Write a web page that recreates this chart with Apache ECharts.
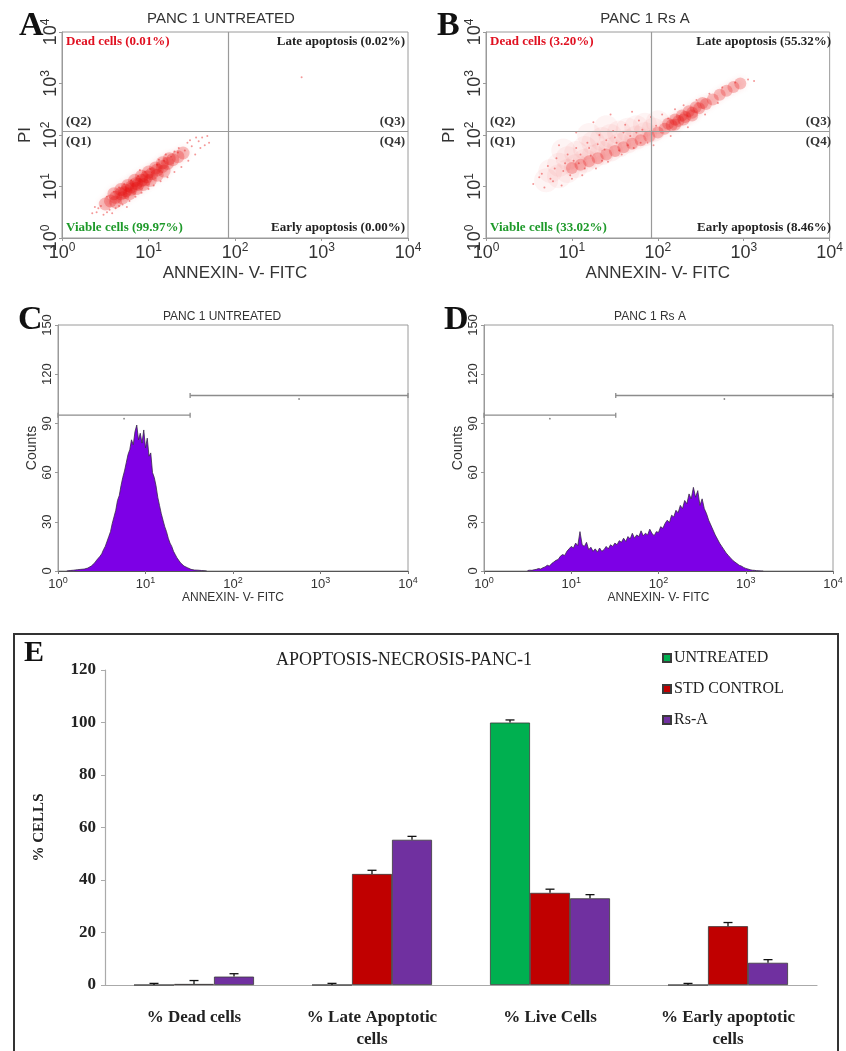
<!DOCTYPE html>
<html>
<head>
<meta charset="utf-8">
<script src="https://cdn.jsdelivr.net/npm/echarts@6/dist/echarts.min.js"></script>
<style>
  html, body { margin: 0; padding: 0; background: #fff; }
  #chart { width: 846px; height: 1051px; }
</style>
</head>
<body>
<div id="chart"></div>
<script>
// ---------- Flow cytometry dot plots (log10 exponents of ANNEXIN V-FITC, PI) ----------
const fitcGate = 83;   // vertical quadrant gate (FITC)
const piGate = 120;    // horizontal quadrant gate (PI)

const quadrantNames = ['Dead cells', 'Late apoptosis', 'Viable cells', 'Early apoptosis'];
const untreatedQuadrantPct = ['0.01', '0.02', '99.97', '0.00'];
const rsaQuadrantPct = ['3.20', '55.32', '33.02', '8.46'];

// dense core of the untreated population
const untreatedCore = [
  [0.50, 0.66], [0.56, 0.72], [0.62, 0.79], [0.68, 0.86], [0.74, 0.92], [0.80, 0.99],
  [0.86, 1.06], [0.92, 1.12], [0.98, 1.19], [1.04, 1.25], [1.10, 1.32], [1.16, 1.39],
  [1.22, 1.45], [1.28, 1.52], [1.34, 1.58], [1.40, 1.65],
  [0.62, 0.70], [0.70, 0.78], [0.78, 0.86], [0.86, 0.96], [0.94, 1.04], [1.02, 1.12],
  [1.10, 1.22], [1.18, 1.30], [0.60, 0.86], [0.68, 0.94], [0.76, 1.02], [0.84, 1.12],
  [0.92, 1.20], [1.00, 1.28], [1.08, 1.36], [1.16, 1.46], [1.24, 1.54],
  [0.72, 0.88], [0.80, 0.95], [0.88, 1.04], [0.96, 1.13]
];
// sparse events around the untreated population
const untreatedSpray = [
  [0.40, 0.50], [0.45, 0.62], [0.48, 0.45], [0.52, 0.80], [0.55, 0.55], [0.60, 0.90],
  [0.62, 0.58], [0.66, 0.98], [0.70, 0.65], [0.72, 1.05], [0.78, 0.72], [0.80, 1.12],
  [0.85, 0.80], [0.88, 1.20], [0.92, 0.88], [0.96, 1.28], [1.00, 0.95], [1.02, 1.34],
  [1.06, 1.02], [1.10, 1.42], [1.14, 1.10], [1.18, 1.50], [1.22, 1.18], [1.26, 1.58],
  [1.30, 1.28], [1.34, 1.66], [1.38, 1.38], [1.42, 1.70], [1.46, 1.50], [1.50, 1.78],
  [1.54, 1.62], [1.58, 1.88], [1.45, 1.85], [1.62, 1.95], [1.35, 1.75], [1.20, 1.62],
  [0.35, 0.48], [0.58, 0.48], [0.75, 0.60], [1.65, 1.80], [2.77, 3.12],
  [0.42, 0.58], [0.66, 0.62], [1.60, 1.75], [1.70, 1.85], [1.55, 1.95], [0.38, 0.60],
  [0.52, 0.50], [0.90, 1.32], [1.12, 1.52], [1.30, 1.68], [1.48, 1.90], [1.68, 1.98]
];

// dense ridge of the Rs A treated population
const rsaRidge = [
  [1.00, 1.36], [1.10, 1.42], [1.20, 1.49], [1.30, 1.55], [1.40, 1.62], [1.50, 1.69],
  [1.60, 1.76], [1.70, 1.83], [1.80, 1.90], [1.90, 1.97], [2.00, 2.05], [2.08, 2.12],
  [2.16, 2.19], [2.24, 2.27], [2.32, 2.35], [2.40, 2.43], [2.48, 2.52], [2.56, 2.60],
  [2.64, 2.69], [2.72, 2.78], [2.80, 2.86], [2.88, 2.93], [2.96, 3.00],
  [2.12, 2.22], [2.20, 2.30], [2.28, 2.38], [2.36, 2.46], [2.44, 2.54], [2.52, 2.62],
  [2.20, 2.20], [2.30, 2.30], [2.40, 2.38]
];
// diffuse haze of the Rs A population (lower-left)
const rsaHaze = [
  [0.70, 1.12], [0.75, 1.30], [0.85, 1.20], [0.85, 1.42], [0.95, 1.30], [0.95, 1.55],
  [1.05, 1.40], [1.05, 1.65], [1.15, 1.50], [1.15, 1.75], [1.25, 1.58], [1.25, 1.85],
  [1.35, 1.65], [1.35, 1.92], [1.45, 1.72], [1.45, 1.98], [1.55, 1.80], [1.55, 2.05],
  [1.65, 1.88], [1.65, 2.10], [1.75, 1.95], [1.75, 2.15], [1.85, 2.02], [1.85, 2.20],
  [1.95, 2.10], [2.00, 2.25], [1.20, 2.00], [0.90, 1.70], [1.40, 2.15]
];
// scattered single events of the Rs A population
const rsaDots = [
  [0.55, 1.05], [0.62, 1.18], [0.68, 0.98], [0.72, 1.40], [0.78, 1.10], [0.82, 1.55],
  [0.88, 1.02], [0.90, 1.30], [0.95, 1.62], [1.00, 1.15], [1.05, 1.75], [1.08, 1.45],
  [1.12, 1.22], [1.18, 1.85], [1.22, 1.60], [1.28, 1.35], [1.32, 2.00], [1.38, 1.72],
  [1.42, 1.48], [1.48, 2.08], [1.52, 1.85], [1.58, 1.62], [1.62, 2.20], [1.68, 1.98],
  [1.72, 1.75], [1.78, 2.28], [1.82, 2.10], [1.88, 1.85], [1.92, 2.35], [1.98, 2.18],
  [2.05, 2.40], [2.12, 2.32], [2.20, 2.50], [2.30, 2.58], [2.45, 2.68], [2.60, 2.80],
  [2.75, 2.92], [2.90, 3.02], [3.05, 3.08], [3.12, 3.05], [1.25, 2.25], [1.45, 2.40],
  [1.05, 2.05], [0.85, 1.80], [1.70, 2.45], [2.35, 2.15], [2.55, 2.40], [2.70, 2.62],
  [2.15, 1.98], [1.95, 1.80],
  [0.65, 1.25], [0.75, 1.15], [0.80, 1.35], [0.92, 1.45], [0.98, 1.22], [1.02, 1.50],
  [1.10, 1.62], [1.15, 1.35], [1.20, 1.75], [1.30, 1.82], [1.35, 1.50], [1.40, 1.90],
  [1.50, 1.95], [1.55, 1.70], [1.60, 2.05], [1.65, 1.80], [1.75, 2.05], [1.80, 1.85]
];

// ---------- Histograms (counts per log10 FITC bin) ----------
const untreatedHistStart = 0.10, untreatedHistStep = 0.02;
const untreatedHistCounts = [
  0, 0, 0.3, 0, 0.5, 0.4, 0.8, 0.5, 1, 0.8,
  1.2, 1.5, 1.8, 2.4, 3, 3.6, 5, 6.5, 7.5, 9,
  10.5, 13, 15, 18, 21, 24, 29, 33, 37, 43,
  46, 52, 57, 61, 66, 71, 74, 80, 77, 85,
  89, 80, 84, 78, 86, 75, 81, 70, 72, 60,
  57, 52, 45, 40, 35, 31, 27, 24, 20, 17,
  15, 12, 10, 8, 6.5, 5, 4, 3, 2.4, 2,
  1.5, 1, 0.8, 0.6, 0.4, 0.5, 0.2, 0.3, 0, 0.2, 0
];
const rsaHistStart = 0.50, rsaHistStep = 0.025;
const rsaHistCounts = [
  0.3, 0.5, 0.4, 0.8, 1.0, 1.5, 1.2, 2.0, 2.5, 3.5,
  3.0, 4.5, 5.5, 6.5, 7.0, 9.0, 10.0, 9.5, 12.0, 13.5,
  15.0, 14.0, 17.0, 15.5, 24.0, 16.0, 15.0, 17.5, 13.0, 14.5,
  12.0, 13.5, 11.5, 14.0, 12.0, 13.0, 15.0, 13.5, 16.0, 15.0,
  17.0, 16.0, 18.5, 17.5, 20.0, 18.0, 21.0, 19.5, 23.0, 20.0,
  22.0, 21.0, 24.5, 21.5, 23.0, 22.0, 25.5, 23.0, 21.5, 24.0,
  23.5, 27.0, 26.0, 29.0, 31.0, 29.5, 34.0, 33.0, 37.0, 35.5,
  40.0, 38.0, 43.0, 41.0, 47.0, 44.0, 51.0, 45.0, 49.0, 40.0,
  44.0, 38.0, 35.0, 31.0, 28.0, 25.0, 22.0, 19.5, 17.0, 15.0,
  13.0, 11.0, 9.5, 8.0, 6.5, 5.5, 4.5, 3.5, 3.0, 2.2,
  1.6, 1.2, 0.8, 0.5, 0.4, 0.2, 0.1, 0, 0
];
// histogram markers: [start exponent, end exponent, count level]
const histMarkers = [[0, 1.51, 95], [1.51, 4, 107]];
const countTicks = [0, 30, 60, 90, 120, 150];

// ---------- Apoptosis / necrosis bar chart ----------
const barCategories = ['% Dead cells', '% Late Apoptotic\ncells', '% Live Cells', '% Early apoptotic\ncells'];
const seriesNames = ['UNTREATED', 'STD CONTROL', 'Rs-A'];
const untreatedPct = [0.01, 0.02, 99.97, 0.00];
const stdControlPct = [0.4, 42.3, 35.1, 22.4];
const rsaPct = [3.20, 55.32, 33.02, 8.46];
const untreatedErr = [0.6, 0.6, 1.0, 0.6];
const stdControlErr = [1.3, 1.4, 1.4, 1.4];
const rsaErr = [1.1, 1.3, 1.4, 1.2];

// ---------- Styling ----------
const SERIF = '"Liberation Serif", "Times New Roman", serif';
const SANS = '"Liberation Sans", Arial, sans-serif';
const NARROW = '"Liberation Sans Narrow", "Liberation Sans", Arial, sans-serif';
const barColors = ['#00b050', '#c00000', '#7030a0'];
const frameGray = '#9a9a9a';

const gridA = { left: 62, top: 32, width: 346, height: 206 };
const gridB = { left: 486, top: 32, width: 348, height: 206 };
const gridC = { left: 58, top: 325, width: 350, height: 246 };
const gridD = { left: 484, top: 325, width: 349, height: 246 };
const gridE = { left: 105, top: 670, width: 712, height: 321 };

const toLog = pts => pts.map(p => [Math.pow(10, p[0]), Math.pow(10, p[1])]);
const toHist = (start, step, counts) => counts.map((c, i) => [Math.pow(10, start + i * step), c]);

function decadeLabel(v) {
  return '10{s|' + Math.round(Math.log10(v)) + '}';
}

function dotPlotAxes(gridIndex) {
  const labelBase = {
    formatter: decadeLabel, fontFamily: SANS, fontSize: 18, color: '#333',
    rich: { s: { fontFamily: SANS, fontSize: 12, color: '#333', padding: [0, 0, 10, 0] } }
  };
  return {
    x: {
      type: 'log', logBase: 10, min: 1, max: 10000, gridIndex,
      axisLine: { show: true, lineStyle: { color: frameGray } },
      axisTick: { show: true, length: 3, lineStyle: { color: frameGray } },
      splitLine: { show: false },
      axisLabel: Object.assign({ margin: 4 }, labelBase),
      name: 'ANNEXIN- V- FITC', nameLocation: 'middle', nameGap: 27,
      nameTextStyle: { fontFamily: SANS, fontSize: 17, color: '#333' }
    },
    y: {
      type: 'log', logBase: 10, min: 1, max: 10000, gridIndex,
      axisLine: { show: true, lineStyle: { color: frameGray } },
      axisTick: { show: true, length: 3, lineStyle: { color: frameGray } },
      splitLine: { show: false },
      axisLabel: Object.assign({ margin: 0, rotate: 90 }, labelBase),
      name: 'PI', nameLocation: 'middle', nameGap: 28,
      nameTextStyle: { fontFamily: SANS, fontSize: 17, color: '#333' }
    }
  };
}

function histAxes(gridIndex) {
  return {
    x: {
      type: 'log', logBase: 10, min: 1, max: 10000, gridIndex,
      axisLine: { show: true, lineStyle: { color: '#555' } },
      axisTick: { show: true, length: 3, lineStyle: { color: '#777' } },
      splitLine: { show: false },
      axisLabel: {
        formatter: decadeLabel, fontFamily: NARROW, fontSize: 13, color: '#333', margin: 5,
        rich: { s: { fontFamily: NARROW, fontSize: 9, color: '#333', padding: [0, 0, 7, 0] } }
      },
      name: 'ANNEXIN- V- FITC', nameLocation: 'middle', nameGap: 21,
      nameTextStyle: { fontFamily: NARROW, fontSize: 12, color: '#333' }
    },
    y: {
      type: 'value', min: 0, max: 150, interval: 30, gridIndex,
      axisLine: { show: true, lineStyle: { color: frameGray } },
      axisTick: { show: true, length: 3, lineStyle: { color: frameGray } },
      splitLine: { show: false },
      axisLabel: { fontFamily: NARROW, fontSize: 13, color: '#333', rotate: 90, margin: 4,
        customValues: countTicks },
      name: 'Counts', nameLocation: 'middle', nameGap: 19,
      nameTextStyle: { fontFamily: NARROW, fontSize: 14, color: '#333' }
    }
  };
}

const axA = dotPlotAxes(0), axB = dotPlotAxes(1), axC = histAxes(2), axD = histAxes(3);

function quadrantMarkLine() {
  return {
    silent: true, symbol: 'none', label: { show: false },
    lineStyle: { color: frameGray, type: 'solid', width: 1.2 },
    data: [{ xAxis: fitcGate }, { yAxis: piGate }]
  };
}

function markerSeries(xi) {
  return {
    type: 'custom', xAxisIndex: xi, yAxisIndex: xi, silent: true, z: 5,
    data: histMarkers.map(m => [Math.pow(10, m[0]), Math.pow(10, m[1]), m[2]]),
    renderItem: (params, api) => {
      const a = api.coord([api.value(0), api.value(2)]);
      const b = api.coord([api.value(1), api.value(2)]);
      const st = { stroke: '#8c8c8c', lineWidth: 1.3 };
      return {
        type: 'group',
        children: [
          { type: 'line', shape: { x1: a[0], y1: a[1], x2: b[0], y2: b[1] }, style: st },
          { type: 'line', shape: { x1: a[0], y1: a[1] - 2.5, x2: a[0], y2: a[1] + 2.5 }, style: st },
          { type: 'line', shape: { x1: b[0], y1: b[1] - 2.5, x2: b[0], y2: b[1] + 2.5 }, style: st },
          { type: 'circle', shape: { cx: (a[0] + b[0]) / 2, cy: a[1] + 3.5, r: 0.9 }, style: { fill: '#888' } }
        ]
      };
    }
  };
}

function errorSeries(values, errs, offset) {
  return {
    type: 'custom', xAxisIndex: 4, yAxisIndex: 4, silent: true, z: 6,
    data: values.map((v, i) => [i, v, errs[i]]),
    renderItem: (params, api) => {
      const base = api.coord([api.value(0), api.value(1)]);
      const top = api.coord([api.value(0), api.value(1) + api.value(2)]);
      const x = base[0] + offset;
      const st = { stroke: '#111', lineWidth: 1.3 };
      return {
        type: 'group',
        children: [
          { type: 'line', shape: { x1: x, y1: base[1], x2: x, y2: top[1] }, style: st },
          { type: 'line', shape: { x1: x - 4.5, y1: top[1], x2: x + 4.5, y2: top[1] }, style: st }
        ]
      };
    }
  };
}

function barSeries(name, values, color) {
  return {
    name, type: 'bar', xAxisIndex: 4, yAxisIndex: 4, data: values,
    barWidth: 40, barGap: '0%',
    itemStyle: { color, borderColor: '#3a3a3a', borderWidth: 0.8 }
  };
}

const coreStyle = { color: 'rgba(232, 12, 12, 0.30)', shadowBlur: 6, shadowColor: 'rgba(232, 12, 12, 0.35)' };
const dotStyle = { color: 'rgba(230, 20, 20, 0.55)' };

const option = {
  backgroundColor: '#fff',
  animation: false,
  grid: [
    Object.assign({ show: true, borderColor: frameGray, borderWidth: 1 }, gridA),
    Object.assign({ show: true, borderColor: frameGray, borderWidth: 1 }, gridB),
    Object.assign({ show: true, borderColor: frameGray, borderWidth: 1 }, gridC),
    Object.assign({ show: true, borderColor: frameGray, borderWidth: 1 }, gridD),
    gridE
  ],
  xAxis: [axA.x, axB.x, axC.x, axD.x, {
    type: 'category', gridIndex: 4, data: barCategories,
    axisLine: { show: true, lineStyle: { color: '#aaa', width: 1.2 } },
    axisTick: { show: false },
    axisLabel: { interval: 0, fontFamily: SERIF, fontWeight: 'bold', fontSize: 17, color: '#222',
      margin: 22, lineHeight: 22 }
  }],
  yAxis: [axA.y, axB.y, axC.y, axD.y, {
    type: 'value', gridIndex: 4, min: 0, max: 120, interval: 20,
    axisLine: { show: true, lineStyle: { color: '#aaa', width: 1.2 } },
    axisTick: { show: true, length: 4, lineStyle: { color: '#aaa' } },
    splitLine: { show: false },
    axisLabel: { fontFamily: SERIF, fontWeight: 'bold', fontSize: 17, color: '#222', margin: 9 },
    name: '% CELLS', nameLocation: 'middle', nameGap: 58,
    nameTextStyle: { fontFamily: SERIF, fontWeight: 'bold', fontSize: 15, color: '#222' }
  }],
  legend: {
    data: seriesNames, orient: 'vertical', left: 657, top: 645,
    itemWidth: 8, itemHeight: 8, itemGap: 15, icon: 'rect',
    textStyle: { fontFamily: SERIF, fontSize: 16, color: '#222', padding: [0, 0, 0, -2] },
    selectedMode: false
  },
  series: [
    // Panel A
    { type: 'scatter', xAxisIndex: 0, yAxisIndex: 0, data: toLog(untreatedCore), symbolSize: 13,
      itemStyle: coreStyle, silent: true, markLine: quadrantMarkLine() },
    { type: 'scatter', xAxisIndex: 0, yAxisIndex: 0, data: toLog(untreatedSpray), symbolSize: 2,
      itemStyle: dotStyle, silent: true },
    // Panel B
    { type: 'scatter', xAxisIndex: 1, yAxisIndex: 1, data: toLog(rsaHaze), symbolSize: 24,
      itemStyle: { color: 'rgba(238, 50, 50, 0.07)', shadowBlur: 10, shadowColor: 'rgba(238, 50, 50, 0.10)' },
      silent: true, markLine: quadrantMarkLine() },
    { type: 'scatter', xAxisIndex: 1, yAxisIndex: 1, data: toLog(rsaRidge), symbolSize: 12,
      itemStyle: coreStyle, silent: true },
    { type: 'scatter', xAxisIndex: 1, yAxisIndex: 1, data: toLog(rsaDots), symbolSize: 2,
      itemStyle: dotStyle, silent: true },
    // Panel C
    { type: 'line', xAxisIndex: 2, yAxisIndex: 2, data: toHist(untreatedHistStart, untreatedHistStep, untreatedHistCounts),
      symbol: 'none', silent: true, lineStyle: { color: '#3a2a4a', width: 0.8 },
      areaStyle: { color: '#7d00e6', opacity: 1 } },
    markerSeries(2),
    // Panel D
    { type: 'line', xAxisIndex: 3, yAxisIndex: 3, data: toHist(rsaHistStart, rsaHistStep, rsaHistCounts),
      symbol: 'none', silent: true, lineStyle: { color: '#3a2a4a', width: 0.8 },
      areaStyle: { color: '#7d00e6', opacity: 1 } },
    markerSeries(3),
    // Panel E
    barSeries(seriesNames[0], untreatedPct, barColors[0]),
    barSeries(seriesNames[1], stdControlPct, barColors[1]),
    barSeries(seriesNames[2], rsaPct, barColors[2]),
    errorSeries(untreatedPct, untreatedErr, -40),
    errorSeries(stdControlPct, stdControlErr, 0),
    errorSeries(rsaPct, rsaErr, 40)
  ]
};

const chart = echarts.init(document.getElementById('chart'), null, { renderer: 'canvas' });
chart.setOption(option);

// ---------- Text overlays: panel letters, titles, quadrant labels, frame ----------
function txt(text, x, y, font, fill, align, vAlign) {
  return { type: 'text', silent: true, z: 100,
    style: { text, x, y, font, fill: fill || '#222', textAlign: align || 'left', textVerticalAlign: vAlign || 'middle' } };
}

function quadrantLabels(gridIdx, rect, pct) {
  const gate = chart.convertToPixel({ xAxisIndex: gridIdx, yAxisIndex: gridIdx }, [fitcGate, piGate]);
  const L = rect.left + 4, R = rect.left + rect.width - 3;
  const T = rect.top + 10, B = rect.top + rect.height - 10;
  const f = 'bold 13px ' + SERIF;
  return [
    txt(quadrantNames[0] + ' (' + pct[0] + '%)', L, T, f, '#e01020'),
    txt(quadrantNames[1] + ' (' + pct[1] + '%)', R, T, f, '#222', 'right'),
    txt(quadrantNames[2] + ' (' + pct[2] + '%)', L, B, f, '#1e9a2a'),
    txt(quadrantNames[3] + ' (' + pct[3] + '%)', R, B, f, '#222', 'right'),
    txt('(Q2)', L, gate[1] - 9, f, '#333'),
    txt('(Q1)', L, gate[1] + 11, f, '#333'),
    txt('(Q3)', R, gate[1] - 9, f, '#333', 'right'),
    txt('(Q4)', R, gate[1] + 11, f, '#333', 'right')
  ];
}

const letterFont = 'bold 34px ' + SERIF;
const graphics = [
  txt('A', 19, 26, letterFont, '#111'),
  txt('B', 437, 26, letterFont, '#111'),
  txt('C', 18, 320, letterFont, '#111'),
  txt('D', 444, 320, letterFont, '#111'),
  txt('E', 24, 653, 'bold 30px ' + SERIF, '#111'),
  txt('PANC 1 UNTREATED', 221, 19, '15px ' + SANS, '#333', 'center'),
  txt('PANC 1 Rs A', 645, 19, '15px ' + SANS, '#333', 'center'),
  txt('PANC 1 UNTREATED', 222, 317, '12px ' + NARROW, '#333', 'center'),
  txt('PANC 1 Rs A', 650, 317, '12px ' + NARROW, '#333', 'center'),
  txt('APOPTOSIS-NECROSIS-PANC-1', 404, 660, '18px ' + SERIF, '#222', 'center'),
  { type: 'rect', silent: true, z: 90,
    shape: { x: 14, y: 634, width: 824, height: 440 },
    style: { fill: 'none', stroke: '#333', lineWidth: 2 } }
].concat(quadrantLabels(0, gridA, untreatedQuadrantPct), quadrantLabels(1, gridB, rsaQuadrantPct));

chart.setOption({ graphic: graphics });
</script>
</body>
</html>
